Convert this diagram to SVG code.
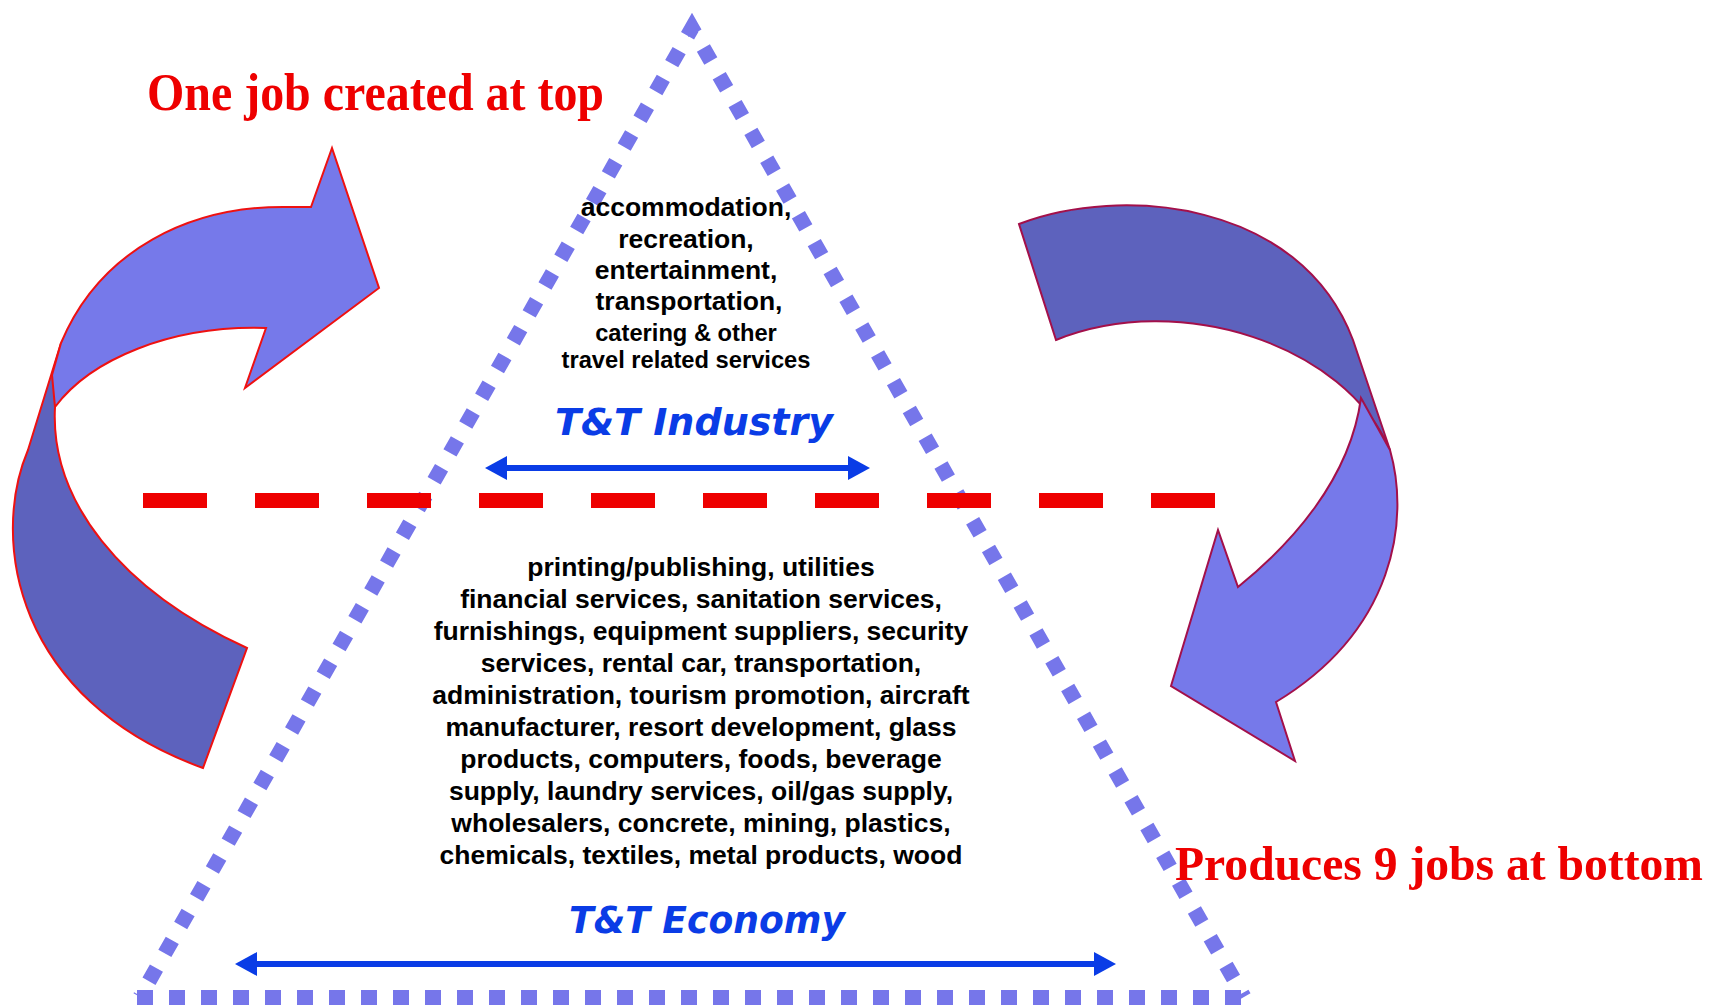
<svg xmlns="http://www.w3.org/2000/svg" width="1731" height="1005" viewBox="0 0 1731 1005">
<style>
.bg{fill:#ffffff}
.tri{fill:none;stroke:#7676ea;stroke-width:15;stroke-dasharray:15 17;stroke-linejoin:miter;stroke-miterlimit:10}
.base{fill:none;stroke:#7676ea;stroke-width:16;stroke-dasharray:16 16}
.red{fill:none;stroke:#ee0000;stroke-width:15;stroke-dasharray:64 48}
.dark{fill:#5d62bd}
.light{fill:#7679ea}
.lstroke{stroke:#ee1111;stroke-width:2;stroke-linejoin:miter}
.rstroke{stroke:#a3104a;stroke-width:2;stroke-linejoin:miter}
.barrow{stroke:#0a3ce6;stroke-width:6;fill:none}
.label{font-family:"Liberation Sans",Arial,sans-serif;font-weight:bold;fill:#000;text-anchor:middle}
.big{font-size:26.5px}
.small{font-size:23.7px}
.title{font-family:"Liberation Serif","Times New Roman",serif;font-weight:bold;fill:#ee0000;font-size:52px}
.tt{font-family:"DejaVu Sans",sans-serif;font-weight:bold;font-style:italic;fill:#0a3ce6;font-size:38px}
</style>
<defs>
<marker id="head" viewBox="0 0 22 24" refX="2" refY="12" markerWidth="22" markerHeight="24" markerUnits="userSpaceOnUse" orient="auto-start-reverse">
<path d="M0,0 L22,12 L0,24 Z" fill="#0a3ce6"/>
</marker>
</defs>
<rect class="bg" x="0" y="0" width="1731" height="1005"/>

<g id="pyramid">
<path class="tri" d="M140,997 L692,28 L1244,997" stroke-dashoffset="13.8"/>
<line class="base" x1="137" y1="998" x2="1252" y2="998"/>
</g>

<g id="divider">
<line class="red" x1="143" y1="500.5" x2="1216" y2="500.5"/>
</g>

<g id="left-arrow">
<path class="dark lstroke" d="M61,343 L28,450 C-10,540 15,700 203,768 L247,648 C120,590 50,500 55,407 Z"/>
<path class="light lstroke" d="M55,407 C90,360 170,325 266,328 L245,388 L379,288 L332,148 L311,207 L290,207 C190,205 100,250 61,343 L52,375 Z"/>
</g>

<g id="right-arrow">
<path class="dark rstroke" d="M1019,224 C1120,185 1300,200 1353,340 L1390,450 C1345,345 1180,290 1056,340 Z"/>
<path class="light rstroke" d="M1361,398 L1390,450 C1410,520 1395,630 1276,702 L1295,761 L1171,686 L1218,530 L1238,587 C1290,545 1350,480 1361,398 Z"/>
</g>

<g id="title-top">
<text class="title" x="147" y="110" textLength="457" lengthAdjust="spacingAndGlyphs">One job created at top</text>
</g>
<g id="title-bottom">
<text class="title" x="1175" y="880" style="font-size:49px" textLength="528" lengthAdjust="spacingAndGlyphs">Produces 9 jobs at bottom</text>
</g>

<g id="industry">
<text class="label big" x="686" y="216">accommodation,</text>
<text class="label big" x="686" y="248">recreation,</text>
<text class="label big" x="686" y="279">entertainment,</text>
<text class="label big" x="689" y="310">transportation,</text>
<text class="label small" x="686" y="341">catering &amp; other</text>
<text class="label small" x="686" y="368">travel related services</text>
<text class="tt" x="555" y="435" textLength="278" lengthAdjust="spacingAndGlyphs">T&amp;T Industry</text>
</g>

<g id="economy">
<text class="label big" x="701" y="576">printing/publishing, utilities</text>
<text class="label big" x="701" y="608">financial services, sanitation services,</text>
<text class="label big" x="701" y="640">furnishings, equipment suppliers, security</text>
<text class="label big" x="701" y="672">services, rental car, transportation,</text>
<text class="label big" x="701" y="704">administration, tourism promotion, aircraft</text>
<text class="label big" x="701" y="736">manufacturer, resort development, glass</text>
<text class="label big" x="701" y="768">products, computers, foods, beverage</text>
<text class="label big" x="701" y="800">supply, laundry services, oil/gas supply,</text>
<text class="label big" x="701" y="832">wholesalers, concrete, mining, plastics,</text>
<text class="label big" x="701" y="864">chemicals, textiles, metal products, wood</text>
<text class="tt" x="569" y="933" textLength="276" lengthAdjust="spacingAndGlyphs">T&amp;T Economy</text>
</g>

<g id="connectors">
<line class="barrow" x1="505" y1="468" x2="850" y2="468" marker-start="url(#head)" marker-end="url(#head)"/>
<line class="barrow" x1="255" y1="964" x2="1096" y2="964" marker-start="url(#head)" marker-end="url(#head)"/>
</g>
</svg>
